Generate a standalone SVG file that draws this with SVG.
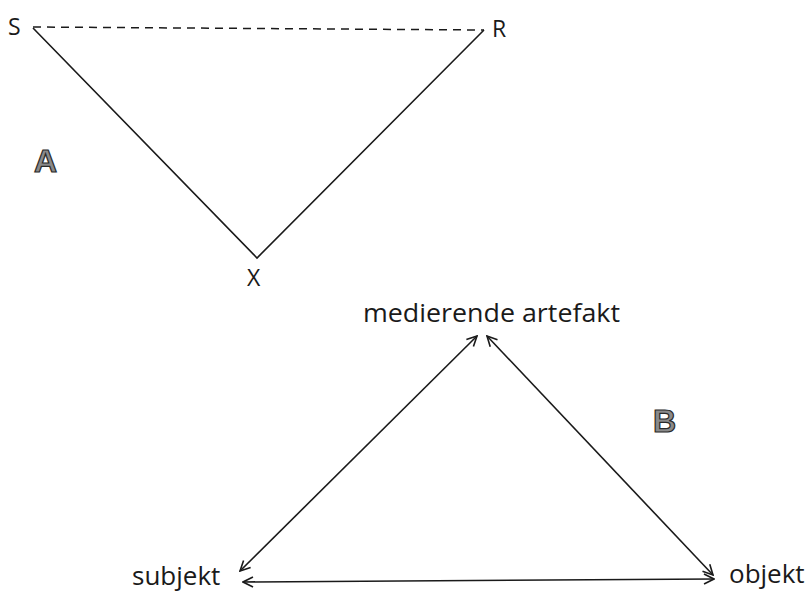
<svg xmlns="http://www.w3.org/2000/svg" width="808" height="595" viewBox="0 0 808 595">
<style>
.t{font-family:"Open Sans","Liberation Sans",sans-serif;fill:#1a1a1a}
.big{font-family:"Liberation Sans","Open Sans",sans-serif;font-weight:bold;font-size:32px;fill:#8a8a8a;stroke:#2a2a2a;stroke-width:1.2}
.ln{stroke:#1a1a1a;stroke-width:1.6;fill:none}
.dash{stroke:#1a1a1a;stroke-width:1.5;fill:none;stroke-dasharray:8,6}
.arr{marker-start:url(#ah);marker-end:url(#ah)}
</style>
<defs>
<marker id="ah" viewBox="0 0 12 12" refX="11" refY="6" markerWidth="12" markerHeight="12" markerUnits="userSpaceOnUse" orient="auto-start-reverse">
<path d="M1,1 L11,6 L1,11" fill="none" stroke="#1a1a1a" stroke-width="1.6"/>
</marker>
</defs>
<rect width="808" height="595" fill="#fff"/>
<g id="connectors">
<line class="dash" x1="33" y1="27" x2="484" y2="30"/>
<polyline class="ln" points="33,28 257,258 484,30"/>
<line class="ln arr" x1="240" y1="571" x2="477" y2="336"/>
<line class="ln arr" x1="713" y1="575" x2="487" y2="336"/>
<line class="ln arr" x1="243" y1="582" x2="714" y2="579"/>
</g>
<g id="node-S"><text class="t" x="8" y="35" font-size="23">S</text></g>
<g id="node-R"><text class="t" x="492" y="37" font-size="23">R</text></g>
<g id="node-X"><text class="t" x="247" y="286" font-size="23">X</text></g>
<g id="label-A"><text class="big" x="34" y="172">A</text></g>
<g id="label-B"><text class="big" x="653" y="432">B</text></g>
<g id="node-artefakt"><text class="t" x="363" y="322" font-size="26" textLength="257" lengthAdjust="spacingAndGlyphs">medierende artefakt</text></g>
<g id="node-subjekt"><text class="t" x="132" y="585" font-size="26">subjekt</text></g>
<g id="node-objekt"><text class="t" x="729" y="583" font-size="26">objekt</text></g>
</svg>
